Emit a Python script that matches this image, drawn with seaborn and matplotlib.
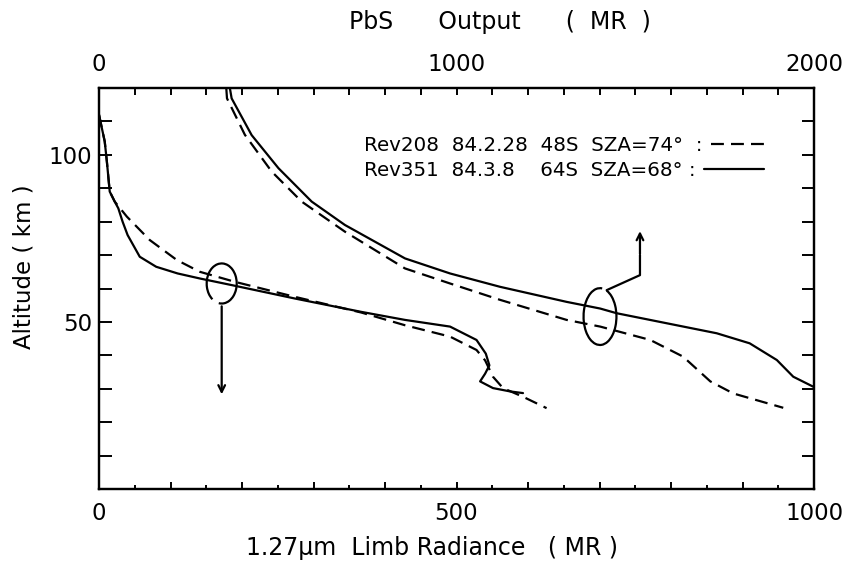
import numpy as np
import pandas as pd
import matplotlib
matplotlib.use("Agg")
import matplotlib.pyplot as plt
import seaborn as sns
from matplotlib.patches import Arc
from matplotlib.ticker import MultipleLocator

# ---------------- data ----------------
series_labels = ["Rev208  84.2.28  48S  SZA=74°  :", "Rev351  84.3.8    64S  SZA=68° :"]

# 1.27 um limb radiance (bottom axis, MR) vs altitude (km)
lr208_val = [0, 8, 11, 15, 22, 39, 71, 109, 141, 190, 274, 367, 428, 491, 528, 540, 551, 565, 593, 626]
lr208_alt = [112, 104, 98, 89, 86, 81.5, 74.5, 68.5, 65, 62, 57.5, 52.8, 49, 45.6, 41.6, 38.5, 33.6, 30.2, 27.6, 24.2]

lr351_val = [0, 8, 11, 15, 22, 27, 33, 40, 57, 80, 110, 141, 186, 274, 367, 428, 491, 528,
             541, 546, 540, 533, 551, 575, 593]
lr351_alt = [112, 104, 98, 89, 86, 84, 80, 76, 69.5, 66.5, 64.5, 63, 61, 57, 53, 50.6, 48.6, 44.6,
             40.5, 37, 34.5, 32.2, 30.2, 29.2, 28.7]

# PbS output (top axis, MR) vs altitude (km)
pbs208_val = [356, 358, 408, 483, 567, 688, 856, 982, 1122, 1308, 1402, 1542, 1634, 1710, 1774, 1914]
pbs208_alt = [120, 116.9, 106, 95, 86, 77, 66, 61.5, 56.6, 50.6, 48.6, 44.6, 39.6, 32.2, 28.6, 24.3]

pbs351_val = [366, 371, 427, 502, 595, 688, 856, 982, 1122, 1308, 1402, 1448, 1588, 1728, 1820, 1896, 1942, 2000]
pbs351_alt = [120, 116.9, 105.9, 96, 86, 79, 69, 64.5, 60.5, 56, 54, 52.6, 49.6, 46.6, 43.6, 38.6, 33.6, 30.5]

bottom_ticklabels = {0: "0", 500: "500", 1000: "1000"}
top_ticklabels = {0: "0", 1000: "1000", 2000: "2000"}
left_ticklabels = {50: "50", 100: "100"}

# ---------------- frames ----------------
lr_df = pd.concat([
    pd.DataFrame({"val": lr208_val, "alt": lr208_alt, "rev": series_labels[0]}),
    pd.DataFrame({"val": lr351_val, "alt": lr351_alt, "rev": series_labels[1]}),
], ignore_index=True)
pbs_df = pd.concat([
    pd.DataFrame({"val": pbs208_val, "alt": pbs208_alt, "rev": series_labels[0]}),
    pd.DataFrame({"val": pbs351_val, "alt": pbs351_alt, "rev": series_labels[1]}),
], ignore_index=True)

sns.set_theme(style="white")
plt.rcParams["font.family"] = ["DejaVu Sans"]
plt.rcParams["text.color"] = "black"
plt.rcParams["xtick.color"] = "black"
plt.rcParams["ytick.color"] = "black"
plt.rcParams["axes.labelcolor"] = "black"

fig = plt.figure(figsize=(8.65, 5.69), dpi=100)
ax = fig.add_axes([99 / 865, 1 - 489 / 569, 715 / 865, 401 / 569])
ax2 = ax.twiny()

dash_map = {series_labels[0]: (5.8, 3.2), series_labels[1]: ""}
pal = {series_labels[0]: "black", series_labels[1]: "black"}
common = dict(x="val", y="alt", hue="rev", style="rev", palette=pal, dashes=dash_map,
              sort=False, estimator=None, linewidth=1.6)
sns.lineplot(data=lr_df, ax=ax, legend=True, **common)
sns.lineplot(data=pbs_df, ax=ax2, legend=False, **common)

ax.set_xlim(0, 1000)
ax2.set_xlim(0, 2000)
ax.set_ylim(0, 120)

for a in (ax, ax2):
    for s in a.spines.values():
        s.set_linewidth(1.6)
        s.set_color("black")

# bottom ticks
ax.xaxis.set_major_locator(MultipleLocator(100))
ax.xaxis.set_minor_locator(MultipleLocator(50))
ax.set_xticklabels([bottom_ticklabels.get(int(round(t)), "") for t in ax.get_xticks()])
ax.tick_params(axis="x", which="major", direction="in", length=5, width=1.4, pad=9,
               labelsize=16.5, bottom=True, top=False, color="black", labelcolor="black")
ax.tick_params(axis="x", which="minor", direction="in", length=3, width=1.4, bottom=True, top=False)

# left / right ticks
ax.yaxis.set_major_locator(MultipleLocator(10))
ax.set_yticklabels([left_ticklabels.get(int(round(t)), "") for t in ax.get_yticks()])
ax.tick_params(axis="y", which="major", direction="in", length=9, width=1.4, pad=5,
               labelsize=16.5, left=True, right=True, color="black", labelcolor="black")

# top ticks
ax2.xaxis.set_major_locator(MultipleLocator(100))
ax2.set_xticklabels([top_ticklabels.get(int(round(t)), "") for t in ax2.get_xticks()])
ax2.tick_params(axis="x", which="major", direction="in", length=5, width=1.4, pad=9,
                labelsize=16.5, top=True, bottom=False, color="black", labelcolor="black")

ax.set_xlabel("")
ax.set_ylabel("")
ax2.set_xlabel("")
ax2.set_ylabel("")

fig.text(432 / 865, 1 - 548 / 569, "1.27\u03bcm  Limb Radiance   ( MR )", ha="center", va="center",
         fontsize=17, color="black")
fig.text(500 / 865, 1 - 22 / 569, "PbS      Output      (  MR  )", ha="center", va="center",
         fontsize=17, color="black")
fig.text(24 / 865, 1 - 267 / 569, "Altitude ( km )", ha="center", va="center", rotation=90,
         fontsize=16.5, color="black")

# legend: text first, line sample after, rows left-aligned
handles, labels = ax.get_legend_handles_labels()
leg = ax.legend(handles, labels, loc="upper left", bbox_to_anchor=(0.345, 0.925),
                frameon=False, markerfirst=False, handlelength=3.0, fontsize=14.3,
                labelspacing=0.28, handletextpad=0.45)
for col in leg._legend_handle_box.get_children():
    col.align = "left"
for h in leg.legend_handles:
    h.set_color("black")
    h.set_linewidth(1.6)
for t in leg.get_texts():
    t.set_color("black")

# loop / arrow annotations
ax.add_patch(Arc((171.6, 61.5), 42, 12, theta1=-125, theta2=200, color="black", lw=1.6))
ax.annotate("", xy=(171.6, 27.5), xytext=(171.6, 55.5),
            arrowprops=dict(arrowstyle="->", color="black", lw=1.6))
ax.add_patch(Arc((700.7, 51.6), 46, 17, theta1=70, theta2=400, color="black", lw=1.6))
ax.plot([710, 756.6, 756.6], [59.5, 64, 70], color="black", lw=1.6)
ax.annotate("", xy=(756.6, 78), xytext=(756.6, 69.5),
            arrowprops=dict(arrowstyle="->", color="black", lw=1.6))

fig.savefig("out.png", dpi=100, facecolor="white")
